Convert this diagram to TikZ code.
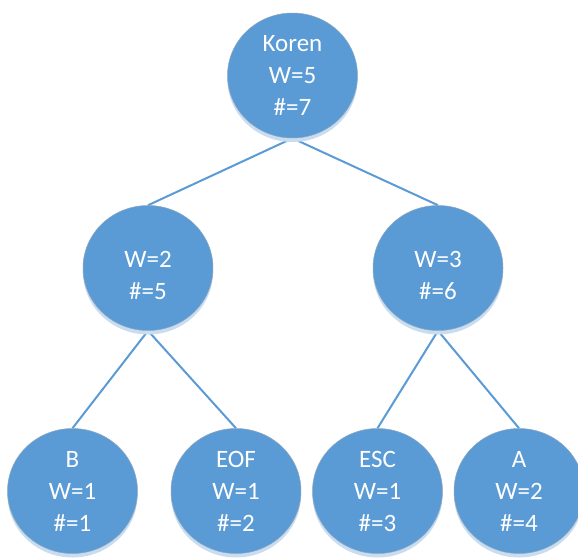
\documentclass[tikz,border=0pt]{standalone}
\usepackage{fontspec}
\setmainfont{Carlito}
\usetikzlibrary{shapes.geometric,shadows,backgrounds}
\definecolor{nodeblue}{HTML}{5B9BD5}
\definecolor{rimgray}{HTML}{8FA7BF}
\definecolor{shadeblue}{HTML}{C9DDF0}
\begin{document}
\begin{tikzpicture}[x=1pt,y=-1pt,
  treenode/.style={ellipse, minimum width=130pt, minimum height=125pt,
    inner sep=0pt, fill=nodeblue, draw=rimgray, line width=0.5pt,
    text=white, align=center, font=\fontsize{25}{32}\selectfont,
    drop shadow={shadow xshift=0pt, shadow yshift=-4pt, fill=shadeblue, draw=none, opacity=1}},
  branch/.style={draw=nodeblue, line width=2pt}]
\useasboundingbox (0,0) rectangle (578,557);
% Huffman-style tree
\node[treenode] (root) at (292.5,75.5) {Koren\\W=5\\\#=7};
\node[treenode] (left) at (148,268) {\mbox{}\\W=2\\\#=5};
\node[treenode] (right) at (438,268) {\mbox{}\\W=3\\\#=6};
\node[treenode] (b) at (72.5,491) {B\\W=1\\\#=1};
\node[treenode] (eof) at (236,491) {EOF\\W=1\\\#=2};
\node[treenode] (esc) at (377.5,491) {ESC\\W=1\\\#=3};
\node[treenode] (a) at (519,491) {A\\W=2\\\#=4};
\begin{scope}[on background layer]
\draw[branch] (root.south) -- (left.north);
\draw[branch] (root.south) -- (right.north);
\draw[branch] (left.south) -- (b.north);
\draw[branch] (left.south) -- (eof.north);
\draw[branch] (right.south) -- (esc.north);
\draw[branch] (right.south) -- (a.north);
\end{scope}
\end{tikzpicture}
\end{document}
